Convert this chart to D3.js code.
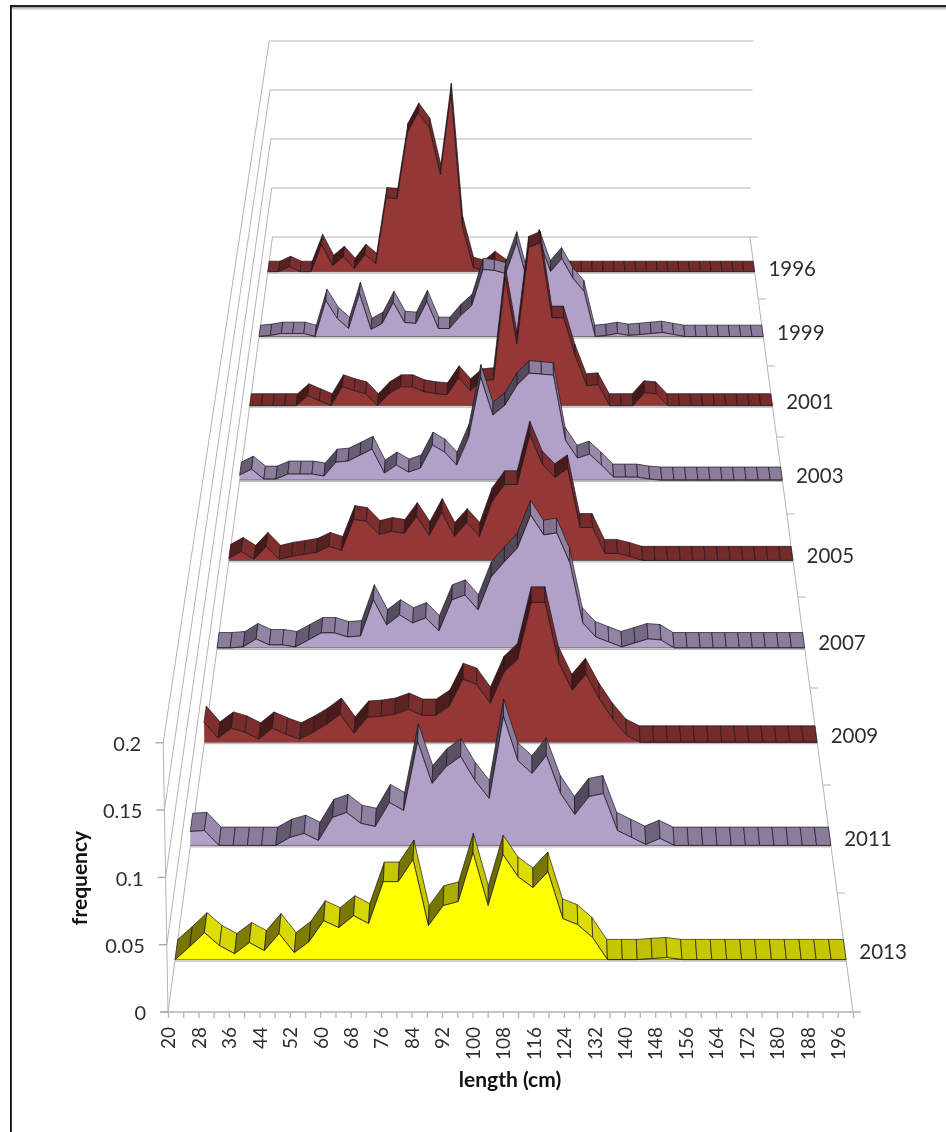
<!DOCTYPE html>
<html><head><meta charset="utf-8">
<script src="https://cdn.jsdelivr.net/npm/d3@7"></script>
<style>html,body{margin:0;padding:0;background:#fff}svg{display:block;filter:blur(0.45px)}text{font-family:Lato,sans-serif;fill:#2e2e2e}</style>
</head><body><div id="chart"></div>
<script>
const lengths=[20,24,28,32,36,40,44,48,52,56,60,64,68,72,76,80,84,88,92,96,100,104,108,112,116,120,124,128,132,136,140,144,148,152,156,160,164,168,172,176,180,184,188,192,196,200];
const labelledLengths=[20,28,36,44,52,60,68,76,84,92,100,108,116,124,132,140,148,156,164,172,180,188,196];
const yTicks=[0,0.05,0.1,0.15,0.2];
const years=["1996","1999","2001","2003","2005","2007","2009","2011","2013"];
const y1996=[0,0,.005,0,0,.0271,.006,.015,.003,.0171,.008,.0742,.0732,.1394,.1595,.1444,.0973,.1795,.0451,.004,.001,.01,.002,0,0,0,0,0,0,0,0,0,0,0,0,0,0,0,0,0,0,0,0,0,0,0];
const y1999=[0,.001,.0029,.0029,.0029,0,.0351,.0175,.0078,.0419,.0068,.0127,.0331,.0136,.0127,.0341,.0078,.0078,.0204,.0302,.0652,.0643,.0613,.0915,.0516,.0935,.0633,.0759,.0565,.0438,0,.001,.0029,.001,.0019,.0029,.0039,.0019,0,0,0,0,0,0,0,0];
const y2001=[0,0,0,0,0,.0094,.0047,0,.0179,.0142,.0113,0,.0113,.0179,.0179,.0132,.0113,.0104,.0264,.0142,.0236,.0246,.1209,.0585,.1492,.1539,.0831,.0831,.0472,.0189,.0198,0,0,0,.0123,.0113,0,0,0,0,0,0,0,0,0,0];
const y2003=[.0046,.01,.0009,.0009,.0055,.0055,.0055,.0037,.0164,.0174,.0228,.0283,.0064,.0137,.0073,.011,.032,.0256,.0137,.0393,.0941,.0594,.0685,.0868,.0977,.0968,.0959,.0365,.0201,.0237,.0137,.0027,.0027,.0027,.0009,0,0,0,0,0,0,0,0,0,0,0];
const y2005=[.0018,.0079,.0009,.0124,.0009,.0035,.0053,.0071,.0124,.0088,.0362,.0344,.0229,.0256,.0238,.0388,.0221,.0424,.0212,.0335,.0212,.0521,.0671,.0671,.1112,.0847,.0733,.0812,.0291,.0291,.0062,.0062,.0035,0,0,0,0,0,0,0,0,0,0,0,0,0];
const y2007=[0,0,.0009,.0077,.0026,.0026,.0009,.0068,.0128,.0128,.0094,.0102,.0409,.0196,.0281,.0213,.0256,.0145,.0409,.0451,.0324,.0605,.0733,.0852,.1133,.0963,.098,.0724,.0213,.0094,.0051,.0009,.0043,.0077,.0068,0,0,0,0,0,0,0,0,0,0,0];
const y2009=[.0164,.0033,.0115,.0082,.0025,.0115,.0066,.0025,.0082,.0148,.023,.0074,.0205,.0213,.023,.0271,.0221,.0221,.0295,.0517,.0476,.032,.0574,.0681,.1148,.1148,.0656,.0427,.0558,.0353,.0189,.0057,0,0,0,0,0,0,0,0,0,0,0,0,0,0];
const y2011=[.011,.0118,0,0,0,0,0,.0063,.0095,.0039,.0221,.026,.0174,.015,.0339,.0276,.082,.0489,.0623,.0702,.0513,.0371,.1017,.067,.0568,.071,.041,.0244,.0386,.041,.0118,.0063,.0008,.0055,0,0,0,0,0,0,0,0,0,0,0,0];
const y2013=[0,.0098,.0204,.0106,.0045,.0129,.0068,.0197,.0053,.0136,.0295,.0242,.0333,.0273,.059,.059,.0757,.0257,.0409,.0439,.081,.0409,.0795,.0628,.0545,.0666,.031,.0265,.0167,0,0,0,.0008,.0015,0,0,0,0,0,0,0,0,0,0,0,0];
const seriesValues=[y1996,y1999,y2001,y2003,y2005,y2007,y2009,y2011,y2013];

const W=946,H=1132;
const red="#953735",lilac="#b1a0c7",yellow="#ffff00";
const seriesColors=[red,lilac,red,lilac,red,lilac,red,lilac,yellow];

// Projection of the 3-D box
const floorTickY=[237,299,366,437,514,597,688,785,893,1012];
const depthY=d3.scaleLinear().domain(d3.range(10)).range(floorTickY);
const leftX=d3.scaleLinear().domain([1012,237]).range([168,272.5]);
const rightX=d3.scaleLinear().domain([1012,237]).range([853,750]);
const unitH=d3.scaleLinear().domain([1012,237]).range([1346,980]);
const lenFrac=d3.scaleLinear().domain([20,200]).range([0,1]);
const slotOffset=0.56,ribbonDepth=0.17,leanK=0.07,cx=510;
function project(len,v,t){
  const b=depthY(t);
  const xs=d3.scaleLinear().domain([0,1]).range([leftX(b),rightX(b)]);
  const ys=d3.scaleLinear().domain([0,0.2]).range([b,b-0.2*unitH(b)]);
  const x=xs(lenFrac(len));
  return [cx+(x-cx)*(1+leanK*v),ys(v)];
}
const shade=d3.scaleLinear().domain([-3,-0.8,0,0.8,3]).range([0.42,0.47,0.78,0.87,0.78]).clamp(true);
const ribbonFill=(col,k)=>{const c=d3.rgb(col);return d3.rgb(c.r*k,c.g*k,c.b*k).formatHex();};
const poly=pts=>"M"+pts.map(p=>p[0].toFixed(2)+","+p[1].toFixed(2)).join("L")+"Z";
const line=d3.line();

const svg=d3.select("#chart").append("svg").attr("width",W).attr("height",H);
// outer frame
svg.append("rect").attr("x",11).attr("y",7).attr("width",W).attr("height",2.5).attr("fill","#c8c8c8");
svg.append("rect").attr("x",10).attr("y",5).attr("width",W).attr("height",2.2).attr("fill","#222");
svg.append("rect").attr("x",10).attr("y",5).attr("width",1.8).attr("height",H).attr("fill","#111");

const grey="#b4b4b4";
const walls=svg.append("g").attr("fill","none").attr("stroke",grey).attr("stroke-width",1);
yTicks.forEach(v=>{
  const a=project(20,v,9),b=project(20,v,0),c=project(200,v,0);
  walls.append("path").attr("d",line([a,b,c]));
});
// vertical axis edge and right floor edge
walls.append("path").attr("d",line([project(20,0,9),project(20,0.2,9)]));
walls.append("path").attr("d",line([project(200,0,0),project(200,0,9)]));

// series ticks on the right floor edge
floorTickY.forEach((_,i)=>{
  const p=project(200,0,i);
  walls.append("path").attr("d",line([p,[p[0]+8,p[1]]]));
});

// Series back to front
years.forEach((yr,s)=>{
  const vals=seriesValues[s],col=seriesColors[s],t=s+slotOffset,tb=t-ribbonDepth;
  const g=svg.append("g").attr("class","series s"+yr);
  const front=vals.map((v,i)=>project(lengths[i],v,t));
  const back=vals.map((v,i)=>project(lengths[i],v,tb));
  d3.range(vals.length-1).forEach(i=>{
    const a=front[i],b=front[i+1],c=back[i+1],d=back[i];
    const slope=(b[1]-a[1])/(b[0]-a[0]);
    g.append("path").attr("d",poly([a,b,c,d])).attr("fill",ribbonFill(col,shade(slope)))
     .attr("stroke","#1c1420").attr("stroke-width",0.8).attr("stroke-linejoin","round").attr("stroke-opacity",0.85);
  });
  const base0=project(20,0,t),base1=project(200,0,t);
  g.append("path").attr("d",poly([base0,...front,base1])).attr("fill",col);
  g.append("path").attr("d",line(front)).attr("fill","none").attr("stroke","#201820").attr("stroke-width",0.9).attr("stroke-opacity",0.85);
  g.append("path").attr("d",line([base0,base1])).attr("fill","none").attr("stroke","#3a3040").attr("stroke-width",1).attr("stroke-opacity",0.6);
  g.append("path").attr("d",line([[base0[0],base0[1]+1.4],[base1[0],base1[1]+1.4]])).attr("fill","none").attr("stroke","#bbb").attr("stroke-width",1.2);
  const lp=project(200,0,s+slotOffset-0.08);
  svg.append("text").attr("x",lp[0]+14.5).attr("y",lp[1]+1.5).attr("dy","0.36em").attr("font-size",20.5).text(yr);
});

// Length axis along the front floor edge
const xAxisScale=d3.scaleLinear().domain([20,200]).range([168,853]);
const xAxis=d3.axisBottom(xAxisScale).tickValues(lengths).tickSize(6).tickPadding(0)
  .tickFormat(d=>labelledLengths.includes(d)?d:"");
const gx=svg.append("g").attr("transform","translate(0,1012)").call(xAxis);
gx.selectAll("path.domain").attr("stroke","#c4c4c4").attr("stroke-width",2).attr("d","M160,0H861");
gx.selectAll("line").attr("stroke","#b8b8b8").attr("stroke-width",1.4);
gx.selectAll("text").attr("text-anchor","end").attr("font-size",19)
  .attr("font-family","Lato,sans-serif").attr("fill","#2e2e2e")
  .attr("transform","translate(0,15) rotate(-90)").attr("x",0).attr("y",0).attr("dy","0.36em");

// Frequency ticks on the leaning vertical edge
yTicks.forEach(v=>{
  const p=project(20,v,9);
  svg.append("path").attr("d",line([[p[0]-8,p[1]],[p[0],p[1]]])).attr("stroke","#a8a8a8").attr("stroke-width",1.4).attr("fill","none");
  svg.append("text").attr("x",p[0]-22).attr("y",p[1]+1).attr("dy","0.36em").attr("text-anchor","end").attr("font-size",20).text(v);
});

svg.append("text").attr("x",510).attr("y",1087).attr("text-anchor","middle").attr("font-size",21).attr("font-weight",700).style("fill","#111").text("length (cm)");
svg.append("text").attr("transform","translate(87,878) rotate(-90)").attr("text-anchor","middle").attr("font-size",21).attr("font-weight",700).style("fill","#111").text("frequency");
</script></body></html>
